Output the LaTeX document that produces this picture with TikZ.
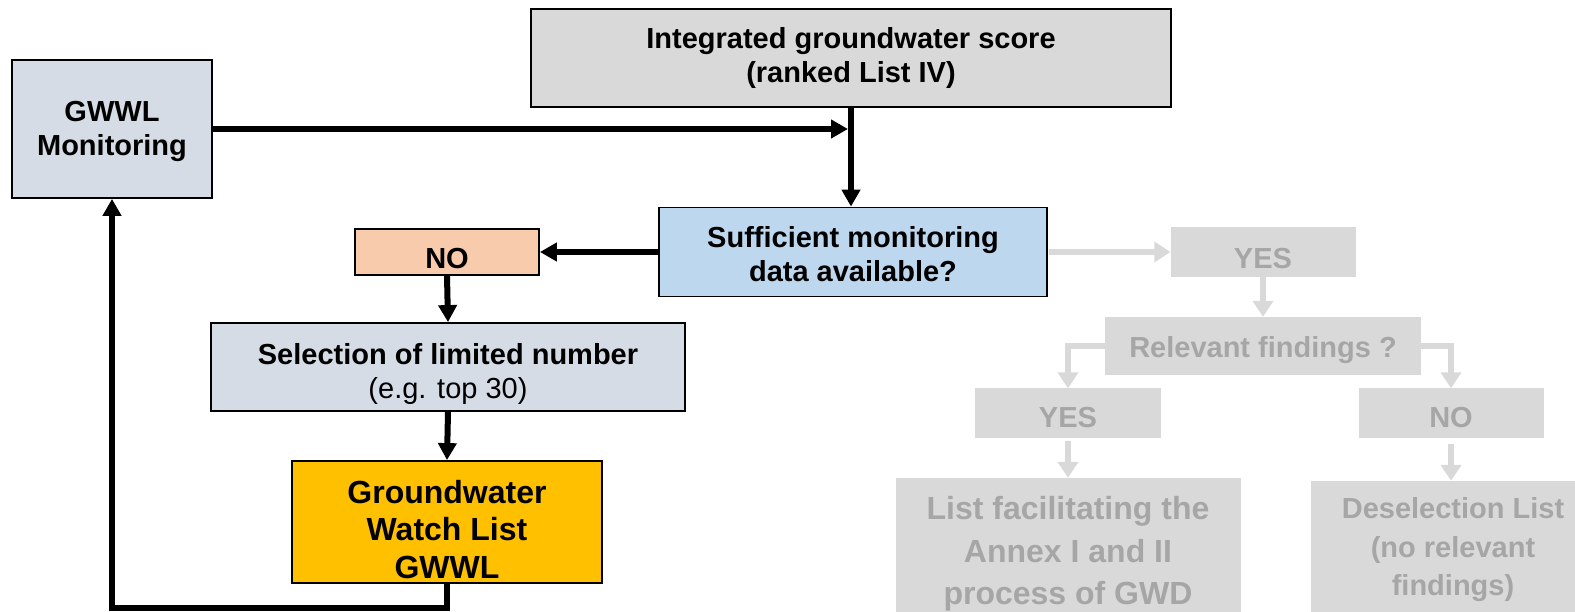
\documentclass[tikz,border=0pt]{standalone}
\usepackage{fontspec}
\setmainfont{Liberation Sans}
\usepackage{xcolor}
\usetikzlibrary{positioning,calc,arrows.meta}

\definecolor{monfill}{HTML}{D6DCE5}
\definecolor{scorefill}{HTML}{D9D9D9}
\definecolor{suffill}{HTML}{BDD7EE}
\definecolor{nofill}{HTML}{F8CBAD}
\definecolor{watchfill}{HTML}{FFC000}
\definecolor{fadefill}{HTML}{D9D9D9}
\definecolor{fadetext}{HTML}{A6A6A6}

\begin{document}
\begin{tikzpicture}[x=1pt,y=-1pt,
    box/.style={draw=black, line width=1.8pt, inner sep=0pt},
    fadebox/.style={fill=fadefill, inner sep=0pt},
    lbl/.style={inner sep=0pt, align=center, font=\fontsize{29}{34}\selectfont\bfseries},
    fadelbl/.style={lbl, text=fadetext},
    flow/.style={line width=6pt, -{Triangle[length=17pt,width=18pt]}},
    fadeflow/.style={line width=6pt, draw=fadefill, -{Triangle[length=16pt,width=20pt]}}]
    \clip (0,0) rectangle (1575,612);

    % Main path
    \node[box, fill=monfill, minimum width=200pt, minimum height=138pt,
        label={[lbl, yshift=-2.5pt]center:GWWL\\Monitoring}] (mon) at (112,129) {};
    \node[box, fill=scorefill, minimum width=640pt, minimum height=98pt,
        label={[lbl]center:Integrated groundwater score\\(ranked List IV)}] (score) at (851,58) {};
    \node[box, fill=suffill, minimum width=388pt, minimum height=89pt,
        label={[lbl, yshift=-2pt]center:Sufficient monitoring\\data available?}] (suff) at (853,252) {};
    \node[box, fill=nofill, minimum width=184pt, minimum height=46pt,
        label={[lbl, yshift=-7pt]center:NO}] (no) at (447,252) {};
    \node[box, fill=monfill, minimum width=474pt, minimum height=88pt,
        label={[lbl, yshift=-7pt]center:Selection of limited number\\\mdseries (e.g. top 30)}] (sel) at (448,367) {};
    \node[box, fill=watchfill, minimum width=310pt, minimum height=122pt,
        label={[lbl, yshift=-7.5pt, font=\fontsize{32}{37.5}\selectfont\bfseries]center:Groundwater\\Watch List\\GWWL}] (gwwl) at (447,522) {};

    % Faded branch
    \node[fadebox, minimum width=185pt, minimum height=50pt,
        label={[fadelbl, yshift=-7pt]center:YES}] (yes) at (1263,252) {};
    \node[fadebox, minimum width=316pt, minimum height=58pt,
        label={[fadelbl, yshift=-4pt]center:Relevant findings ?}] (rel) at (1263,346) {};
    \node[fadebox, minimum width=186pt, minimum height=49pt,
        label={[fadelbl, yshift=-5pt]center:YES}] (yesb) at (1068,413) {};
    \node[fadebox, minimum width=185pt, minimum height=49pt,
        label={[fadelbl, yshift=-5pt]center:NO}] (nob) at (1451,413) {};
    \node[fadebox, minimum width=345pt, minimum height=146pt,
        label={[fadelbl, yshift=-3pt, font=\fontsize{32}{42.5}\selectfont\bfseries]center:List facilitating the\\Annex I and II\\process of GWD}] (annex) at (1068,551) {};
    \node[fadebox, minimum width=284pt, minimum height=132pt,
        label={[fadelbl, yshift=-3pt, font=\fontsize{29}{38.5}\selectfont\bfseries]center:Deselection List\\(no relevant\\findings)}] (desel) at (1453,547) {};

    % Arrows
    \draw[flow, shorten >=3pt] (mon.east) -- (mon.east -| score.south);
    \draw[flow] (score.south) -- (score.south |- suff.north);
    \draw[flow] (suff.west) -- (no.east);
    \draw[flow] (no.south) -- (sel.north);
    \draw[flow] (sel.south) -- (gwwl.north);
    \draw[flow] (gwwl.south) -- ++(0,24) -| (mon.south);

    \draw[fadeflow, shorten <=1pt] (suff.east) -- (yes.west);
    \draw[fadeflow] (yes.south) -- (rel.north);
    \draw[fadeflow] (rel.west) -| (yesb.north);
    \draw[fadeflow] (rel.east) -| (nob.north);
    \draw[fadeflow, shorten <=3pt] (yesb.south) -- (annex.north);
    \draw[fadeflow, shorten <=6pt] (nob.south) -- (nob.south |- desel.north);
\end{tikzpicture}
\end{document}
